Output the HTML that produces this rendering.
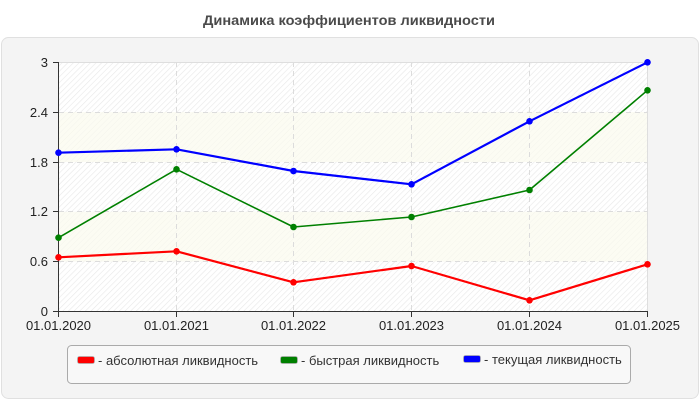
<!DOCTYPE html>
<html><head><meta charset="utf-8"><style>
html,body{margin:0;padding:0;background:#fff;}
svg{display:block;font-family:"Liberation Sans",Arial,sans-serif;}
</style></head><body>
<svg width="700" height="400" viewBox="0 0 700 400" xmlns="http://www.w3.org/2000/svg">
<defs>
<pattern id="hatch" width="4" height="4" patternUnits="userSpaceOnUse" patternTransform="rotate(45)">
<rect width="4" height="4" fill="#ffffff"/>
<line x1="0" y1="0" x2="0" y2="4" stroke="#e8e8e8" stroke-width="1.2"/>
</pattern>
<pattern id="hatchy" width="4" height="4" patternUnits="userSpaceOnUse" patternTransform="rotate(45)">
<rect width="4" height="4" fill="#fcfcf3"/>
<line x1="0" y1="0" x2="0" y2="4" stroke="#f4f4ec" stroke-width="1"/>
</pattern>
</defs>
<rect x="0" y="0" width="700" height="400" fill="#fff"/>
<text x="349" y="25" text-anchor="middle" font-size="14" font-weight="bold" fill="#4a4a4a" textLength="292" lengthAdjust="spacingAndGlyphs">Динамика коэффициентов ликвидности</text>
<rect x="1.5" y="37.5" width="697" height="361" rx="7" fill="#f4f4f4" stroke="#e0e0e0"/>
<!-- plot bands -->
<rect x="58.5" y="62.3" width="589" height="49.8" fill="url(#hatch)"/>
<rect x="58.5" y="112.1" width="589" height="49.9" fill="url(#hatchy)"/>
<rect x="58.5" y="162" width="589" height="49.8" fill="url(#hatch)"/>
<rect x="58.5" y="211.8" width="589" height="49.9" fill="url(#hatchy)"/>
<rect x="58.5" y="261.7" width="589" height="49.8" fill="url(#hatch)"/>
<!-- grid -->
<g stroke="#dcdcdc" stroke-width="1" stroke-dasharray="5,4" fill="none">
<line x1="59" y1="112.5" x2="647" y2="112.5"/>
<line x1="59" y1="162.5" x2="647" y2="162.5"/>
<line x1="59" y1="211.5" x2="647" y2="211.5"/>
<line x1="59" y1="261.5" x2="647" y2="261.5"/>
<line x1="176.5" y1="62" x2="176.5" y2="311"/>
<line x1="293.5" y1="62" x2="293.5" y2="311"/>
<line x1="411.5" y1="62" x2="411.5" y2="311"/>
<line x1="529.5" y1="62" x2="529.5" y2="311"/>
</g>
<line x1="58.5" y1="62.5" x2="647.5" y2="62.5" stroke="#dedede"/>
<line x1="647.5" y1="62" x2="647.5" y2="311" stroke="#dedede"/>
<!-- axes -->
<g stroke="#333" stroke-width="1">
<line x1="58.5" y1="62" x2="58.5" y2="312"/>
<line x1="58" y1="311.5" x2="648" y2="311.5"/>
<line x1="53" y1="62.5" x2="58" y2="62.5"/>
<line x1="53" y1="112.5" x2="58" y2="112.5"/>
<line x1="53" y1="162.5" x2="58" y2="162.5"/>
<line x1="53" y1="211.5" x2="58" y2="211.5"/>
<line x1="53" y1="261.5" x2="58" y2="261.5"/>
<line x1="53" y1="311.5" x2="58" y2="311.5"/>
<line x1="58.5" y1="311" x2="58.5" y2="317"/>
<line x1="176.5" y1="311" x2="176.5" y2="317"/>
<line x1="293.5" y1="311" x2="293.5" y2="317"/>
<line x1="411.5" y1="311" x2="411.5" y2="317"/>
<line x1="529.5" y1="311" x2="529.5" y2="317"/>
<line x1="647.5" y1="311" x2="647.5" y2="317"/>
</g>
<g font-size="13" fill="#222" text-anchor="end">
<text x="48" y="67">3</text>
<text x="48" y="117">2.4</text>
<text x="48" y="167">1.8</text>
<text x="48" y="216">1.2</text>
<text x="48" y="266">0.6</text>
<text x="48" y="316">0</text>
</g>
<g font-size="13" fill="#222" text-anchor="middle">
<text x="58.5" y="330">01.01.2020</text>
<text x="176.5" y="330">01.01.2021</text>
<text x="293.5" y="330">01.01.2022</text>
<text x="411.5" y="330">01.01.2023</text>
<text x="529.5" y="330">01.01.2024</text>
<text x="647.5" y="330">01.01.2025</text>
</g>
<!-- series -->
<polyline fill="none" stroke="#ff0000" stroke-width="2.2" stroke-linejoin="round" points="58.5,257.3 176.5,251.3 293.5,282.3 411.5,266 529.5,300.3 647.5,264.3"/>
<polyline fill="none" stroke="#008000" stroke-width="1.6" stroke-linejoin="round" points="58.5,237.7 176.5,169.3 293.5,227 411.5,217 529.5,190 647.5,90.3"/>
<polyline fill="none" stroke="#0000ff" stroke-width="2.2" stroke-linejoin="round" points="58.5,152.7 176.5,149.3 293.5,171 411.5,184.3 529.5,121.3 647.5,62.3"/>
<g fill="#ff0000">
<circle cx="58.5" cy="257.3" r="3.3"/><circle cx="176.5" cy="251.3" r="3.3"/><circle cx="293.5" cy="282.3" r="3.3"/><circle cx="411.5" cy="266" r="3.3"/><circle cx="529.5" cy="300.3" r="3.3"/><circle cx="647.5" cy="264.3" r="3.3"/>
</g>
<g fill="#008000">
<circle cx="58.5" cy="237.7" r="3.3"/><circle cx="176.5" cy="169.3" r="3.3"/><circle cx="293.5" cy="227" r="3.3"/><circle cx="411.5" cy="217" r="3.3"/><circle cx="529.5" cy="190" r="3.3"/><circle cx="647.5" cy="90.3" r="3.3"/>
</g>
<g fill="#0000ff">
<circle cx="58.5" cy="152.7" r="3.3"/><circle cx="176.5" cy="149.3" r="3.3"/><circle cx="293.5" cy="171" r="3.3"/><circle cx="411.5" cy="184.3" r="3.3"/><circle cx="529.5" cy="121.3" r="3.3"/><circle cx="647.5" cy="62.3" r="3.3"/>
</g>
<!-- legend -->
<rect x="67.5" y="345.5" width="563" height="38" rx="4" fill="#f8f8f8" stroke="#aaaaaa"/>
<rect x="77.5" y="356.5" width="17" height="7" rx="2" fill="#ff0000" stroke="#b0b0b0" stroke-width="0.8"/>
<rect x="280.5" y="356.5" width="17" height="7" rx="2" fill="#008000" stroke="#b0b0b0" stroke-width="0.8"/>
<rect x="463.5" y="355.5" width="17" height="7" rx="2" fill="#0000ff" stroke="#b0b0b0" stroke-width="0.8"/>
<g font-size="13" fill="#333">
<text x="98" y="365">- абсолютная ликвидность</text>
<text x="301" y="365">- быстрая ликвидность</text>
<text x="484" y="364">- текущая ликвидность</text>
</g>
</svg>
</body></html>
